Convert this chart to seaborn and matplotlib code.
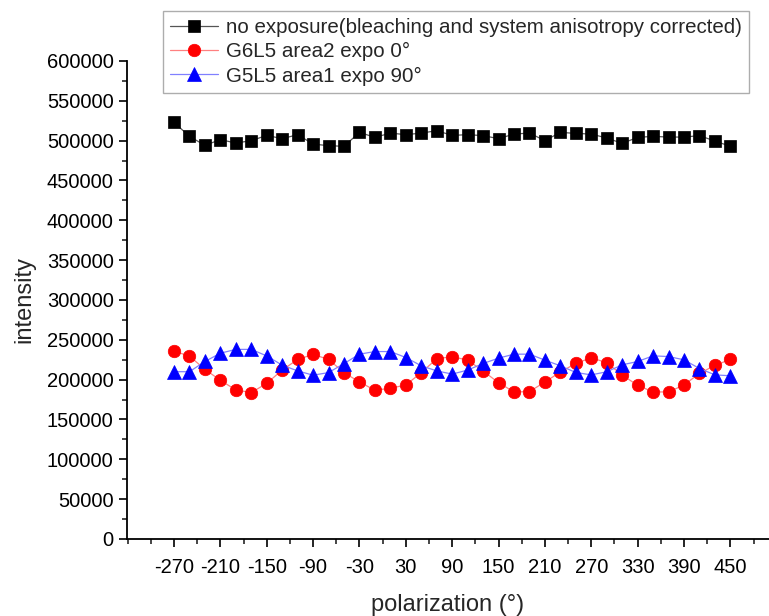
import numpy as np
import pandas as pd
import matplotlib
matplotlib.use("Agg")
import matplotlib.pyplot as plt
from matplotlib.ticker import MultipleLocator
import seaborn as sns

# polarization angles (deg), every 20 from -270 to 450
polarizacao = list(range(-270, 451, 20))

sem_exposicao = [
    522900, 505400, 494100, 501300, 497000, 500000, 506600, 502500, 507500,
    495700, 493700, 492900, 510400, 504100, 509500, 507500, 509500, 512500,
    506600, 507500, 506300, 502500, 508300, 509500, 500000, 510400, 509100,
    508300, 503300, 496600, 504100, 505400, 504500, 504500, 506300, 499500,
    492900,
]

g6l5_area2 = [
    235800, 229600, 212900, 199200, 187100, 183800, 195400, 212100, 225400,
    231700, 225400, 208800, 197100, 186700, 189200, 193300, 208800, 226300,
    228800, 224600, 210800, 196200, 184600, 185000, 197100, 209600, 220400,
    227500, 221300, 205800, 192900, 184600, 184600, 193300, 207900, 217900,
    225400,
]

g5l5_area1 = [
    210000, 210000, 222800, 233200, 238000, 238000, 229800, 218200, 211000,
    205600, 208900, 220200, 232000, 235300, 235300, 227800, 217400, 211000,
    207000, 212000, 220300, 227000, 232000, 232000, 224500, 217400, 209000,
    206000, 209900, 218600, 222800, 229900, 229000, 224900, 214000, 206000,
    204900,
]

rotulos = [
    "no exposure(bleaching and system anisotropy corrected)",
    "G6L5 area2 expo 0°",
    "G5L5 area1 expo 90°",
]

df = pd.DataFrame({
    "polarizacao": polarizacao * 3,
    "intensidade": sem_exposicao + g6l5_area2 + g5l5_area1,
    "serie": [rotulos[0]] * len(polarizacao)
             + [rotulos[1]] * len(polarizacao)
             + [rotulos[2]] * len(polarizacao),
})

sns.set_style("ticks")
plt.rcParams["font.family"] = ["Liberation Sans", "DejaVu Sans"]
plt.rcParams["axes.unicode_minus"] = False
plt.rcParams["xtick.direction"] = "out"
plt.rcParams["ytick.direction"] = "out"

fig = plt.figure(figsize=(7.69, 6.16), dpi=100)
ax = fig.add_axes([0.165, 0.125, 0.835, 0.776])

estilos = [
    ("#555555", "black", "s", 8.5),
    ("#ff8080", "red", "o", 9),
    ("#8080ff", "blue", "^", 9.5),
]

for rotulo, (cor_linha, cor_marca, marca, tam) in zip(rotulos, estilos):
    sns.lineplot(
        data=df[df["serie"] == rotulo],
        x="polarizacao",
        y="intensidade",
        ax=ax,
        color=cor_linha,
        linewidth=0.9,
        marker=marca,
        markersize=tam,
        markerfacecolor=cor_marca,
        markeredgecolor=cor_marca,
        markeredgewidth=0.5,
        label=rotulo,
    )

ax.set_xlim(-331, 500)
ax.set_ylim(0, 600000)
ax.set_xticks(range(-270, 451, 60))
ax.xaxis.set_minor_locator(MultipleLocator(30))
ax.yaxis.set_major_locator(MultipleLocator(50000))
ax.yaxis.set_minor_locator(MultipleLocator(25000))
ax.tick_params(which="major", length=6, width=1.2, labelsize=14.5, colors="black")
ax.tick_params(axis="x", which="major", pad=8)
ax.tick_params(which="minor", length=3.5, width=1.2)

for lado in ["top", "right"]:
    ax.spines[lado].set_visible(False)
for lado in ["left", "bottom"]:
    ax.spines[lado].set_linewidth(1.3)
    ax.spines[lado].set_color("black")

ax.set_xlabel("polarization (°)", fontsize=17, labelpad=12)
ax.set_ylabel("intensity", fontsize=17, labelpad=8)

leg = ax.legend(
    loc="upper left",
    bbox_to_anchor=(0.212, 0.982),
    bbox_transform=fig.transFigure,
    frameon=True,
    fancybox=False,
    fontsize=14.8,
    borderaxespad=0,
    handlelength=2.3,
    labelspacing=0.25,
    borderpad=0.35,
    handletextpad=0.4,
)
leg.get_frame().set_edgecolor("#999999")
leg.get_frame().set_linewidth(1.0)

fig.savefig("out.png", dpi=100)
